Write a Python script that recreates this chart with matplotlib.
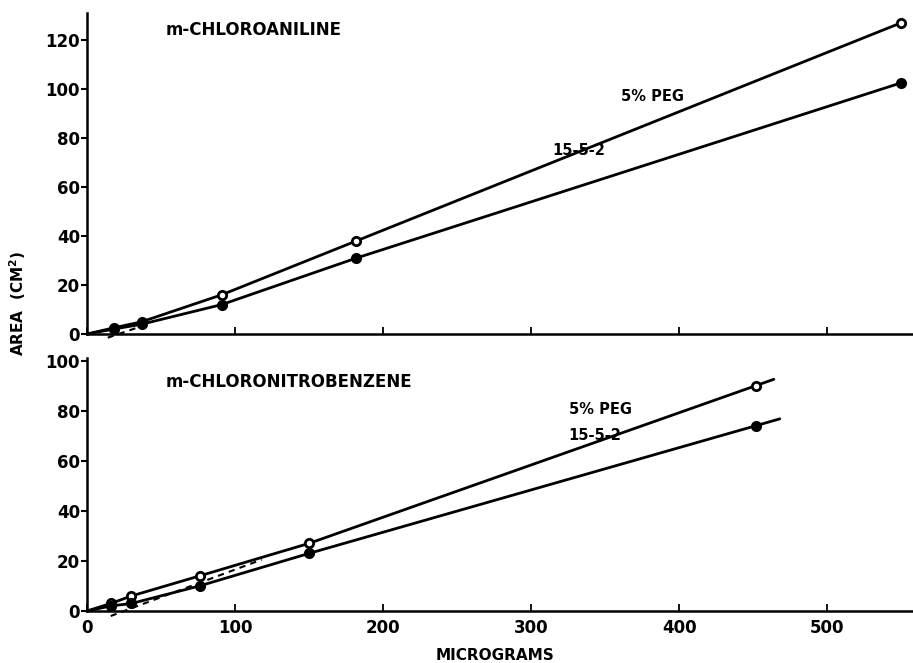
import matplotlib
matplotlib.use("Agg")
import matplotlib.pyplot as plt
import numpy as np

plt.rcParams['font.family'] = ['DejaVu Sans']
plt.rcParams['font.weight'] = 'bold'

# ---- data ----
top_x = [18, 37, 91, 182, 550]
top_peg = [2.5, 5, 16, 38, 127]
top_1552 = [2, 4, 12, 31, 102.5]
top_dash_x = [14, 36]
top_dash_y = [-1.5, 3]

bot_x = [16, 30, 76, 150, 452]
bot_peg = [3, 6, 14, 27, 90]
bot_1552 = [2, 3, 10, 23, 74]
bot_dash_x = [16, 118]
bot_dash_y = [-2, 20.5]
bot_line_end = 468

x_ticks = [0, 100, 200, 300, 400, 500]
top_yticks = [0, 20, 40, 60, 80, 100, 120]
bot_yticks = [0, 20, 40, 60, 80, 100]

fig = plt.figure(figsize=(9.13, 6.63), dpi=100)
W, H = 913, 663
x0 = 87
ax_top = fig.add_axes([x0 / W, 1 - 334 / H, (W - x0) / W, (334 - 13) / H])
ax_bot = fig.add_axes([x0 / W, 1 - 611 / H, (W - x0) / W, (611 - 358) / H])

XMAX = 558


def style(ax, ylim, yticks):
    ax.set_xlim(0, XMAX)
    ax.set_ylim(*ylim)
    for s in ['top', 'right']:
        ax.spines[s].set_visible(False)
    for s in ['left', 'bottom']:
        ax.spines[s].set_linewidth(1.8)
    ax.set_yticks(yticks)
    ax.set_xticks(x_ticks)
    ax.tick_params(axis='y', direction='out', length=4, width=1.5,
                   labelsize=12, pad=1)
    ax.tick_params(axis='x', direction='in', length=5, width=1.3,
                   labelsize=12, pad=6)
    for lab in ax.get_yticklabels() + ax.get_xticklabels():
        lab.set_fontweight('bold')


def draw_series(ax, xs, ys, filled, end=None):
    lx = [0] + list(xs)
    ly = [0] + list(ys)
    if end is not None:
        slope = (ys[-1] - ys[-2]) / (xs[-1] - xs[-2])
        lx.append(end)
        ly.append(ys[-1] + slope * (end - xs[-1]))
    ax.plot(lx, ly, color='black', lw=2, solid_capstyle='round',
            clip_on=False, zorder=3)
    ax.plot(xs, ys, 'o', ms=6, mfc='black' if filled else 'white',
            mec='black', mew=2, clip_on=False, zorder=4)


style(ax_top, (0, 131), top_yticks)
ax_top.set_xticklabels([])
draw_series(ax_top, top_x, top_peg, False)
draw_series(ax_top, top_x, top_1552, True)
ax_top.plot(top_dash_x, top_dash_y, ls=(0, (3, 2.5)), color='black', lw=1.5,
            clip_on=False)
ax_top.text(53, 124, 'm-CHLOROANILINE', fontsize=12, fontweight='bold',
            va='center', ha='left')
ax_top.text(382, 97, '5% PEG', fontsize=10.5, fontweight='bold',
            va='center', ha='center')
ax_top.text(332, 75, '15-5-2', fontsize=10.5, fontweight='bold',
            va='center', ha='center')

style(ax_bot, (0, 101), bot_yticks)
ax_bot.set_xticklabels([str(t) for t in x_ticks])
draw_series(ax_bot, bot_x, bot_peg, False, end=bot_line_end - 4)
draw_series(ax_bot, bot_x, bot_1552, True, end=bot_line_end)
ax_bot.plot(bot_dash_x, bot_dash_y, ls=(0, (3, 2.5)), color='black', lw=1.5,
            clip_on=False)
ax_bot.text(53, 91.5, 'm-CHLORONITROBENZENE', fontsize=12,
            fontweight='bold', va='center', ha='left')
ax_bot.text(347, 80.5, '5% PEG', fontsize=10.5, fontweight='bold',
            va='center', ha='center')
ax_bot.text(343, 70, '15-5-2', fontsize=10.5, fontweight='bold',
            va='center', ha='center')

fig.text(18 / W, 1 - 303 / H, 'AREA  (CM$^{\\mathbf{2}}$)', rotation=90,
         fontsize=11, fontweight='bold', va='center', ha='center')
fig.text(495 / W, 1 - 655 / H, 'MICROGRAMS', fontsize=11,
         fontweight='bold', va='center', ha='center')

fig.savefig('out.png', dpi=100, facecolor='white')
